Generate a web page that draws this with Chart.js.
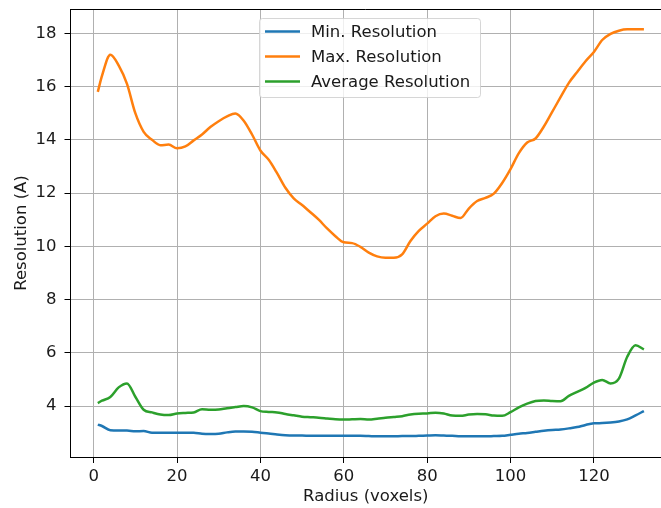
<!DOCTYPE html>
<html>
<head>
<meta charset="utf-8">
<script src="https://cdn.jsdelivr.net/npm/chart.js@4.4.0/dist/chart.umd.min.js"></script>
<style>
  html, body { margin: 0; padding: 0; background: #fff; overflow: hidden; }
  #wrap { width: 661px; height: 508px; }
</style>
</head>
<body>
<div id="wrap"><canvas id="canvas-res" width="661" height="508"></canvas></div>
<script>
var radius = [1, 2, 4, 6, 8, 10, 12, 14, 16, 18, 20, 22, 24, 26, 28, 30, 32, 34, 36, 38,
  40, 42, 44, 46, 48, 50, 52, 54, 56, 58, 60, 62, 64, 66, 68, 70, 72, 74, 76, 78,
  80, 82, 84, 86, 88, 90, 92, 94, 96, 98, 100, 102, 104, 106, 108, 110, 112, 114, 116, 118,
  120, 122, 124, 126, 128, 130, 132];

var minRes = [3.30, 3.25, 3.09, 3.08, 3.08, 3.05, 3.06, 3.00, 3.00, 3.00, 3.00, 3.00, 3.00, 2.96, 2.95, 2.96, 3.01, 3.04, 3.04, 3.03,
  3.00, 2.97, 2.93, 2.90, 2.89, 2.89, 2.88, 2.88, 2.88, 2.88, 2.88, 2.88, 2.88, 2.87, 2.86, 2.86, 2.86, 2.87, 2.87, 2.88,
  2.89, 2.90, 2.89, 2.88, 2.86, 2.86, 2.86, 2.86, 2.87, 2.88, 2.92, 2.96, 2.99, 3.03, 3.07, 3.10, 3.12, 3.16, 3.21, 3.29,
  3.35, 3.36, 3.38, 3.42, 3.50, 3.65, 3.81];

var maxRes = [15.8, 16.4, 17.2, 16.8, 16.1, 15.0, 14.3, 14.0, 13.8, 13.82, 13.68, 13.75, 13.98, 14.2, 14.48, 14.7, 14.88, 14.99, 14.72, 14.2,
  13.6, 13.25, 12.75, 12.2, 11.8, 11.55, 11.28, 11.0, 10.67, 10.38, 10.15, 10.12, 9.98, 9.76, 9.62, 9.57, 9.57, 9.7, 10.2, 10.58,
  10.85, 11.13, 11.23, 11.15, 11.06, 11.42, 11.7, 11.82, 11.98, 12.38, 12.9, 13.5, 13.9, 14.05, 14.5, 15.05, 15.6, 16.14, 16.55, 16.95,
  17.3, 17.75, 17.98, 18.1, 18.15, 18.15, 18.15];

var avgRes = [4.11, 4.20, 4.34, 4.70, 4.85, 4.35, 3.86, 3.76, 3.68, 3.66, 3.72, 3.74, 3.76, 3.88, 3.86, 3.87, 3.92, 3.96, 4.00, 3.95,
  3.81, 3.78, 3.76, 3.70, 3.65, 3.60, 3.58, 3.56, 3.53, 3.50, 3.49, 3.50, 3.51, 3.49, 3.52, 3.56, 3.59, 3.62, 3.68, 3.71,
  3.72, 3.75, 3.72, 3.64, 3.63, 3.68, 3.70, 3.69, 3.64, 3.63, 3.77, 3.95, 4.09, 4.19, 4.21, 4.19, 4.18, 4.38, 4.53, 4.68,
  4.88, 4.98, 4.85, 5.03, 5.85, 6.28, 6.13];

var xTicks = [0, 20, 40, 60, 80, 100, 120];
var yTicks = [4, 6, 8, 10, 12, 14, 16, 18];

var FONT = 'DejaVu Sans';
var FSIZE = 16.5;
var TEXT = '#1a1a1a';

var toPoints = function(values) {
  return values.map(function(v, i) { return { x: radius[i], y: v }; });
};

var makeSet = function(label, color, values) {
  return {
    label: label,
    data: toPoints(values),
    borderColor: color,
    backgroundColor: color,
    borderWidth: 2.5,
    pointRadius: 0,
    cubicInterpolationMode: 'monotone',
    fill: false
  };
};

// top spine + matplotlib style legend box
var framePlugin = {
  id: 'frame',
  afterDraw: function(chart) {
    var ctx = chart.ctx, a = chart.chartArea;
    ctx.save();
    ctx.strokeStyle = '#000';
    ctx.lineWidth = 1;
    ctx.beginPath();
    ctx.moveTo(a.left, a.top + 0.5);
    ctx.lineTo(a.right, a.top + 0.5);
    ctx.stroke();

    var bx = 259.5, by = 18.5, bw = 221, bh = 79, r = 3;
    ctx.beginPath();
    ctx.moveTo(bx + r, by);
    ctx.lineTo(bx + bw - r, by);
    ctx.quadraticCurveTo(bx + bw, by, bx + bw, by + r);
    ctx.lineTo(bx + bw, by + bh - r);
    ctx.quadraticCurveTo(bx + bw, by + bh, bx + bw - r, by + bh);
    ctx.lineTo(bx + r, by + bh);
    ctx.quadraticCurveTo(bx, by + bh, bx, by + bh - r);
    ctx.lineTo(bx, by + r);
    ctx.quadraticCurveTo(bx, by, bx + r, by);
    ctx.closePath();
    ctx.fillStyle = 'rgba(255,255,255,0.8)';
    ctx.fill();
    ctx.strokeStyle = 'rgba(204,204,204,0.8)';
    ctx.stroke();

    ctx.font = FSIZE + 'px "' + FONT + '"';
    ctx.textBaseline = 'middle';
    ctx.textAlign = 'left';
    chart.data.datasets.forEach(function(ds, i) {
      var y = 31.5 + i * 25;
      ctx.strokeStyle = ds.borderColor;
      ctx.lineWidth = 2.5;
      ctx.beginPath();
      ctx.moveTo(265, y);
      ctx.lineTo(300, y);
      ctx.stroke();
      ctx.fillStyle = TEXT;
      ctx.fillText(ds.label, 311, y + 1);
    });
    ctx.restore();
  }
};

window.onload = function() {
  new Chart(document.getElementById('canvas-res'), {
    type: 'line',
    data: {
      datasets: [
        makeSet('Min. Resolution', '#1f77b4', minRes),
        makeSet('Max. Resolution', '#ff7f0e', maxRes),
        makeSet('Average Resolution', '#2ca02c', avgRes)
      ]
    },
    options: {
      responsive: false,
      animation: false,
      layout: { padding: { top: 9, left: 0, right: 0, bottom: 0 } },
      plugins: {
        legend: { display: false },
        tooltip: { enabled: false }
      },
      scales: {
        x: {
          type: 'linear',
          min: -5.55,
          max: 136.1,
          afterFit: function(scale) {
            scale.height = 51;
            scale.paddingLeft = 0;
            scale.paddingRight = 0;
          },
          afterBuildTicks: function(scale) {
            scale.ticks = xTicks.map(function(v) { return { value: v }; });
          },
          grid: { color: '#b0b0b0', lineWidth: 1, tickColor: '#000', tickLength: 6 },
          border: { color: '#000', width: 1 },
          ticks: { color: TEXT, font: { family: FONT, size: FSIZE }, padding: 4, maxRotation: 0 },
          title: {
            display: true,
            text: 'Radius (voxels)',
            color: TEXT,
            font: { family: FONT, size: FSIZE },
            padding: { top: 0, bottom: 1 }
          }
        },
        y: {
          type: 'linear',
          min: 2.085,
          max: 18.915,
          afterFit: function(scale) {
            scale.width = 70.5;
            scale.paddingTop = 0;
            scale.paddingBottom = 0;
          },
          afterBuildTicks: function(scale) {
            scale.ticks = yTicks.map(function(v) { return { value: v }; });
          },
          grid: { color: '#b0b0b0', lineWidth: 1, tickColor: '#000', tickLength: 6 },
          border: { color: '#000', width: 1 },
          ticks: { color: TEXT, font: { family: FONT, size: FSIZE }, padding: 8 },
          title: {
            display: true,
            text: 'Resolution (A)',
            color: TEXT,
            font: { family: FONT, size: FSIZE },
            padding: { top: 12, bottom: 4 }
          }
        }
      }
    },
    plugins: [framePlugin]
  });
};
</script>
</body>
</html>
